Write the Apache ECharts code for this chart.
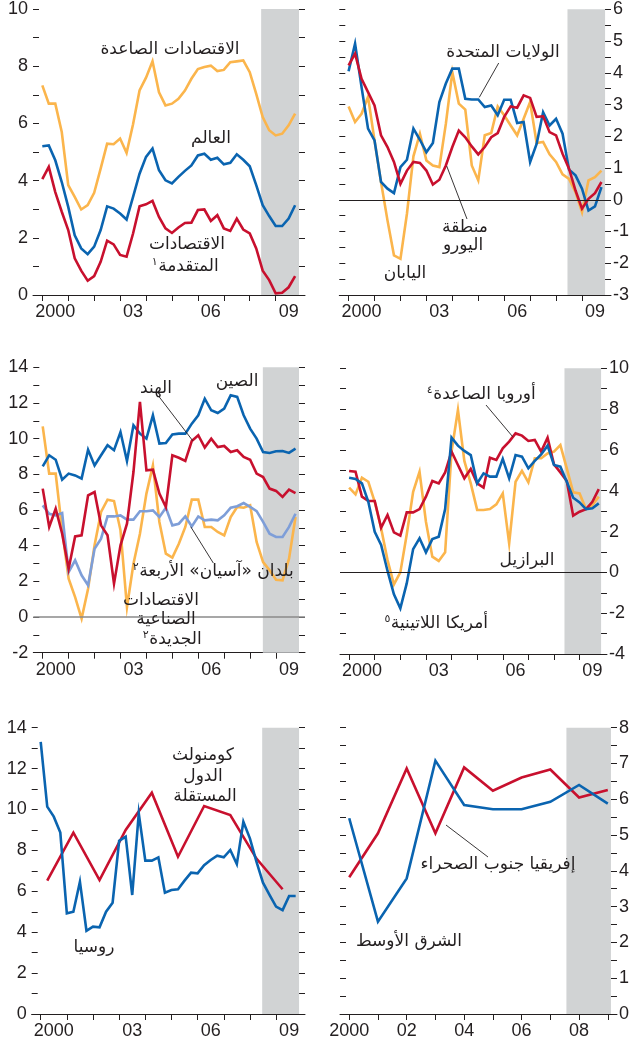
<!DOCTYPE html>
<html><head><meta charset="utf-8">
<script src="https://cdn.jsdelivr.net/npm/echarts@6/dist/echarts.min.js"></script>
<style>html,body{margin:0;padding:0;background:#fff}#c{width:632px;height:1042px}</style>
</head><body><div id="c"></div>
<script>
// ---------- DATA ----------
const QUARTERS = [];
for (let y = 2000; y < 2010; y++) for (let q = 0; q < 4; q++) QUARTERS.push(y + q * 0.25);
const CIS_X = [2000.25,2001.25,2002.25,2003.25,2004.25,2005.25,2006.25,2007.25,2008.25,2009.25];
const YEARS = [2000,2001,2002,2003,2004,2005,2006,2007,2008,2009];

// Panel 1
const P1_EMERGING = [7.33,6.69,6.69,5.7,3.84,3.43,2.99,3.14,3.57,4.42,5.29,5.27,5.47,4.97,5.97,7.15,7.6,8.17,7.09,6.63,6.69,6.86,7.15,7.56,7.9,7.97,8.02,7.83,7.87,8.14,8.17,8.2,7.79,7.03,6.22,5.76,5.58,5.64,5.93,6.34];
const P1_WORLD = [5.2,5.23,4.71,3.95,3.08,2.09,1.63,1.43,1.69,2.27,3.1,3.02,2.85,2.64,3.43,4.24,4.83,5.12,4.36,4.01,3.9,4.13,4.34,4.53,4.88,4.94,4.73,4.8,4.57,4.62,4.92,4.73,4.5,3.84,3.14,2.76,2.41,2.41,2.67,3.14];
const P1_ADVANCED = [4.05,4.48,3.6,2.91,2.27,1.28,0.85,0.5,0.66,1.16,1.9,1.77,1.4,1.34,2.15,3.1,3.17,3.29,2.73,2.33,2.17,2.36,2.52,2.53,2.97,2.99,2.59,2.79,2.33,2.24,2.67,2.29,2.15,1.63,0.85,0.52,0.06,0.08,0.27,0.66];
// Panel 2
const P2_US = [4.05,4.92,3.55,2.24,1.87,0.56,0.35,0.21,1.03,1.26,2.24,1.89,1.5,1.79,3.08,3.66,4.13,4.13,3.18,3.16,3.16,2.92,2.97,2.66,3.15,3.15,2.42,2.45,1.19,1.76,2.76,2.34,2.55,2.08,0.95,0.77,0.35,-0.34,-0.21,0.4];
const P2_EURO = [4.23,4.6,3.81,3.39,2.97,2.03,1.66,1.19,0.5,0.92,1.19,1.16,0.92,0.48,0.63,1.08,1.66,2.18,1.97,1.68,1.43,1.66,1.97,2.1,2.61,2.94,2.9,3.29,3.21,2.61,2.63,2.13,2.03,1.45,0.98,0.29,-0.28,0.03,0.21,0.56];
const P2_JAPAN = [2.94,2.45,2.71,3.24,1.87,0.56,-0.65,-1.75,-1.86,-0.44,1.37,2.08,1.24,1.08,1.03,2.39,4.02,3.03,2.84,1.08,0.61,2.03,2.1,2.94,2.66,2.34,2.03,2.55,3.08,1.79,1.82,1.43,1.19,0.8,0.66,0.24,-0.39,0.61,0.71,0.92];
// Panel 3
const P3_CHINA = [8.45,9.07,8.82,7.7,8.04,7.94,7.76,9.38,8.5,9.07,9.63,9.35,10.37,8.75,10.75,10.28,10.0,11.31,9.72,9.76,10.24,10.28,10.28,10.84,11.31,12.24,11.59,11.44,11.68,12.43,12.34,11.31,10.56,10.0,9.25,9.2,9.29,9.31,9.2,9.44];
const P3_INDIA = [7.2,5.05,6.07,4.67,2.71,4.52,4.58,6.82,7.01,5.14,4.58,1.87,4.02,5.23,8.13,12.06,8.22,8.26,6.92,6.17,9.07,8.93,8.75,9.87,10.19,9.5,10.0,9.53,9.59,9.25,9.35,8.97,8.82,8.04,7.85,7.2,7.07,6.73,7.14,6.95];
const P3_ASEAN = [6.26,5.79,5.7,5.83,2.52,3.18,2.34,1.78,3.83,4.39,5.64,5.64,5.7,5.46,5.46,5.93,5.93,5.98,5.61,6.13,5.14,5.23,5.64,5.08,5.64,5.42,5.46,5.42,5.7,6.13,6.21,6.39,6.17,5.94,5.33,4.67,4.49,4.49,5.05,5.79];
const P3_NIES = [10.69,8.04,8.04,4.86,2.15,1.12,-0.09,1.59,4.02,5.89,6.58,6.5,4.86,0.56,2.99,4.67,6.92,8.5,5.33,3.55,3.33,4.11,5.05,6.58,6.58,5.05,5.05,4.77,4.58,5.61,6.17,6.13,6.26,4.21,3.08,2.62,2.09,2.06,3.27,5.61];
// Panel 4
const P4_EUROPE = [4.97,4.93,3.71,3.5,3.5,2.19,2.81,1.96,1.8,2.94,2.94,3.1,3.71,4.48,4.36,4.9,5.92,5.26,4.61,5.07,4.36,4.15,5.62,5.51,6.08,6.41,6.81,6.7,6.44,6.49,5.92,6.6,5.29,4.9,4.48,2.78,2.97,3.1,3.46,4.08];
const P4_BRAZIL = [4.15,3.82,4.64,4.44,3.46,2.16,0.6,-0.59,0.0,1.86,3.95,4.93,2.48,0.77,0.56,0.98,5.92,7.96,5.46,4.36,3.06,3.06,3.1,3.33,3.87,1.42,4.44,4.97,4.41,5.59,5.59,5.83,5.92,6.24,5.1,3.92,3.87,3.1,3.3,3.71];
const P4_LATAM = [4.64,4.58,4.36,3.46,1.99,1.34,0.07,-1.08,-1.76,-0.54,1.14,1.67,0.98,1.63,1.75,3.1,6.6,6.21,5.95,5.75,4.36,4.85,4.69,4.69,5.56,4.61,5.75,5.67,5.1,5.46,5.78,6.21,5.26,5.18,4.44,3.66,3.43,3.1,3.14,3.38];
// Panel 5
const P5_RUSSIA = [13.31,10.14,9.65,8.87,4.92,5.0,6.47,4.07,4.27,4.24,5.0,5.44,8.47,8.67,5.82,9.81,7.5,7.5,7.66,5.93,6.06,6.1,6.52,6.91,6.88,7.28,7.53,7.74,7.66,8.02,7.33,9.4,8.59,7.45,6.42,5.82,5.25,5.08,5.77,5.77];
const P5_CIS = [6.52,8.87,6.55,9.0,10.82,7.69,10.17,9.73,7.6,6.1];
// Panel 6
const P6_MIDEAST = [5.47,2.58,3.79,7.08,5.84,5.72,5.72,5.93,6.4,5.88];
const P6_SSA = [3.82,5.05,6.86,5.05,6.89,6.24,6.61,6.83,6.05,6.26];

// ---------- STYLE ----------
const TXT = '#231f20';
const ORANGE = '#fbb54c', BLUE = '#0a64b0', RED = '#c8102e', LBLUE = '#7e9ed8', GREY = '#d1d3d4';
const NUM_FONT = "'Liberation Sans Narrow','Arial Narrow','Liberation Sans',sans-serif";
const AR_FONT = "'DejaVu Sans',sans-serif";
const LW = 2.6;

function range(a, b, s) { const r = []; for (let v = a; v <= b + 1e-9; v += s) r.push(Math.round(v * 100) / 100); return r; }
function zip(xs, ys) { return ys.map((v, i) => [xs[i], v]); }

const Q_TICKS = YEARS;
const Q_LABS = [2000.5, 2003.5, 2006.5, 2009.5];
const qFmt = v => { const y = Math.floor(v); return y === 2000 ? '2000' : String(y % 100).padStart(2, '0'); };

const PANELS = [
  {left:33, right:305, top:8.3, bottom:295, xmin:1999.641, xmax:2010.131, ymin:0, ymax:10, yT:1, yL:2, side:'left', band:[2008.44,2009.90], zero:null, xT:Q_TICKS, xL:Q_LABS, fmt:qFmt},
  {left:339.3, right:614.5, top:9.3, bottom:295, xmin:1999.642, xmax:2010.118, ymin:-3, ymax:6, yT:0.5, yL:1, side:'right', band:[2008.44,2009.89], zero:TXT, xT:Q_TICKS, xL:Q_LABS, fmt:qFmt},
  {left:33.3, right:305, top:367.3, bottom:652.7, xmin:1999.637, xmax:2010.116, ymin:-2, ymax:14, yT:1, yL:2, side:'left', band:[2008.49,2009.885], zero:'#8a8a8a', xT:Q_TICKS, xL:Q_LABS, fmt:qFmt},
  {left:340, right:612.7, top:368.3, bottom:654, xmin:1999.644, xmax:2010.07, ymin:-4, ymax:10, yT:1, yL:2, side:'right', band:[2008.41,2009.84], zero:TXT, xT:Q_TICKS, xL:Q_LABS, fmt:qFmt},
  {left:31.7, right:305, top:727.7, bottom:1014, xmin:1999.656, xmax:2010.107, ymin:0, ymax:14, yT:1, yL:2, side:'left', band:[2008.47,2009.88], zero:null, xT:Q_TICKS, xL:Q_LABS, fmt:qFmt},
  {left:340, right:619.3, top:727.7, bottom:1014, xmin:1999.679, xmax:2009.32, ymin:0, ymax:8, yT:0.5, yL:1, side:'right', band:[2007.56,2009.11], zero:null, xT:YEARS, xL:[2000,2002,2004,2006,2008], fmt:v => v === 2000 ? '2000' : String(v % 100).padStart(2, '0')}
];

const grid = [], xAxis = [], yAxis = [], series = [];
PANELS.forEach((p, i) => {
  grid.push({left:p.left, top:p.top, width:p.right - p.left, height:p.bottom - p.top, containLabel:false});
  xAxis.push({
    gridIndex:i, type:'value', min:p.xmin, max:p.xmax,
    axisLine:{show:true, onZero:false, lineStyle:{color:TXT, width:1}},
    axisTick:{show:true, customValues:p.xT, length:6, lineStyle:{color:TXT, width:1}},
    axisLabel:{customValues:p.xL, formatter:p.fmt, color:TXT, fontSize:18, fontFamily:NUM_FONT, margin:8, showMinLabel:true, showMaxLabel:true, hideOverlap:false},
    splitLine:{show:false}
  });
  ['left','right'].forEach(pos => {
    yAxis.push({
      gridIndex:i, type:'value', position:pos, min:p.ymin, max:p.ymax,
      axisLine:{show:false},
      axisTick:{show:true, inside:true, length:6, customValues:range(p.ymin, p.ymax, p.yT), lineStyle:{color:TXT, width:1}},
      axisLabel:{show:pos === p.side, customValues:range(p.ymin, p.ymax, p.yL), color:TXT, fontSize:18, fontFamily:NUM_FONT, margin:pos === 'left' ? 5 : 2, hideOverlap:false},
      splitLine:{show:false}
    });
  });
  const dummy = {type:'line', xAxisIndex:i, yAxisIndex:2 * i, data:[], z:1, silent:true,
    markArea:{silent:true, itemStyle:{color:GREY}, data:[[{xAxis:p.band[0]}, {xAxis:p.band[1]}]]}};
  if (p.zero) dummy.markLine = {silent:true, symbol:'none', label:{show:false}, animation:false,
    lineStyle:{color:p.zero, width:p.zero === TXT ? 1 : 1.5, type:'solid'}, data:[{yAxis:0}]};
  series.push(dummy);
});

function line(panel, xs, ys, color, z) {
  series.push({type:'line', xAxisIndex:panel, yAxisIndex:2 * panel, data:zip(xs, ys), showSymbol:false, symbol:'none',
    lineStyle:{color:color, width:LW, join:'miter'}, itemStyle:{color:color}, z:z || 3, silent:true});
}
line(0, QUARTERS, P1_EMERGING, ORANGE);
line(0, QUARTERS, P1_WORLD, BLUE);
line(0, QUARTERS, P1_ADVANCED, RED);
line(1, QUARTERS, P2_JAPAN, ORANGE);
line(1, QUARTERS, P2_US, BLUE);
line(1, QUARTERS, P2_EURO, RED);
line(2, QUARTERS, P3_NIES, ORANGE);
line(2, QUARTERS, P3_ASEAN, LBLUE);
line(2, QUARTERS, P3_CHINA, BLUE);
line(2, QUARTERS, P3_INDIA, RED);
line(3, QUARTERS, P4_BRAZIL, ORANGE);
line(3, QUARTERS, P4_EUROPE, RED);
line(3, QUARTERS, P4_LATAM, BLUE);
line(4, CIS_X, P5_CIS, RED);
line(4, QUARTERS, P5_RUSSIA, BLUE);
line(5, YEARS, P6_SSA, RED);
line(5, YEARS, P6_MIDEAST, BLUE);

// ---------- ANNOTATIONS ----------
const AR_SIZE = 17;
const mctx = document.createElement('canvas').getContext('2d');
function tw(t, size) { mctx.font = size + 'px ' + AR_FONT; return mctx.measureText(t).width; }
const graphic = [];
function label(cx, cy, text, sup) {
  const font = AR_SIZE + 'px ' + AR_FONT;
  if (!sup) {
    graphic.push({type:'text', x:cx, y:cy, silent:true, z:10, style:{text:text, fill:TXT, font:font, align:'center', verticalAlign:'middle'}});
    return;
  }
  const w = tw(text, AR_SIZE), sw = tw(sup, 11) + 1;
  const left = cx - (w + sw) / 2;
  graphic.push({type:'text', x:left + sw, y:cy, silent:true, z:10, style:{text:text, fill:TXT, font:font, align:'left', verticalAlign:'middle'}});
  graphic.push({type:'text', x:left + sw / 2, y:cy - 5, silent:true, z:10, style:{text:sup, fill:TXT, font:'11px ' + AR_FONT, align:'center', verticalAlign:'middle'}});
}
function leader(x1, y1, x2, y2) {
  graphic.push({type:'line', silent:true, z:10, shape:{x1, y1, x2, y2}, style:{stroke:TXT, lineWidth:0.9}});
}
// Panel 1
label(170, 50, 'الاقتصادات الصاعدة');
label(211, 139, 'العالم');
label(187, 245, 'الاقتصادات');
label(185, 267, 'المتقدمة', '١');
// Panel 2
label(503, 53, 'الولايات المتحدة');
leader(498.7, 63, 479.3, 97.3);
label(465, 228, 'منطقة');
label(463, 246, 'اليورو');
leader(467, 219, 446.7, 166);
label(405, 274, 'اليابان');
// Panel 3
label(237, 382, 'الصين');
label(156, 389, 'الهند');
leader(159.3, 397, 192.7, 440.7);
label(213, 572, 'بلدان «آسيان» الأربعة', '٢');
leader(213.3, 563, 190.7, 526.7);
label(161, 601, 'الاقتصادات');
label(166, 620, 'الصناعية');
label(172, 640, 'الجديدة', '٢');
// Panel 4
label(481, 395, 'أوروبا الصاعدة', '٤');
leader(486, 405, 512.7, 436.7);
label(527, 561, 'البرازيل');
label(436, 624, 'أمريكا اللاتينية', '٥');
// Panel 5
label(203, 756, 'كومنولث');
label(203, 777, 'الدول');
label(205, 797, 'المستقلة');
label(94, 948, 'روسيا');
// Panel 6
label(498, 865, 'إفريقيا جنوب الصحراء');
leader(488, 857, 446, 825);
label(409, 942, 'الشرق الأوسط');

const chart = echarts.init(document.getElementById('c'), null, {renderer:'canvas'});
chart.setOption({animation:false, backgroundColor:'#fff', grid, xAxis, yAxis, series, graphic});
</script></body></html>
